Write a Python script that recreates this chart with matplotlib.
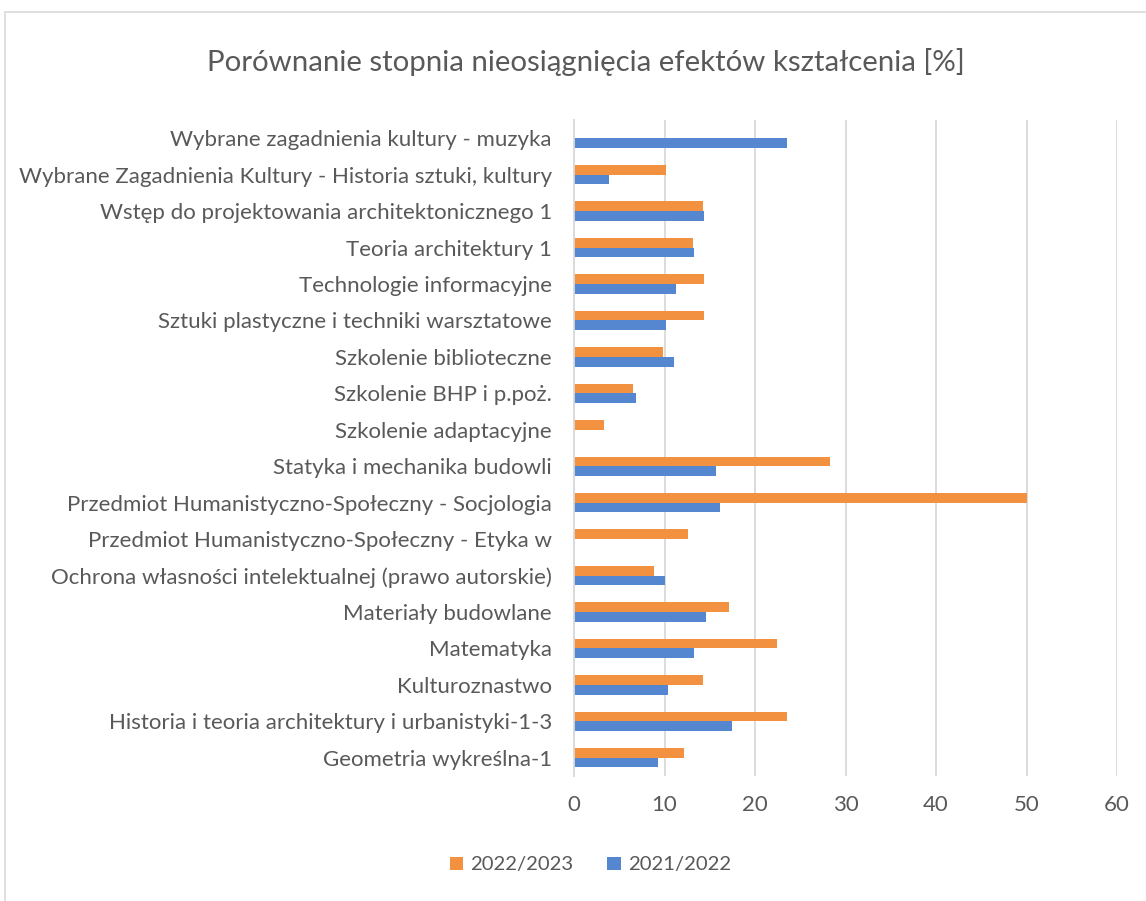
import matplotlib.pyplot as plt
from matplotlib.patches import Rectangle

# dane (od gory do dolu)
kategorie = [
    "Wybrane zagadnienia kultury - muzyka",
    "Wybrane Zagadnienia Kultury - Historia sztuki, kultury",
    "Wstęp do projektowania architektonicznego 1",
    "Teoria architektury 1",
    "Technologie informacyjne",
    "Sztuki plastyczne i techniki warsztatowe",
    "Szkolenie biblioteczne",
    "Szkolenie BHP i p.poż.",
    "Szkolenie adaptacyjne",
    "Statyka i mechanika budowli",
    "Przedmiot Humanistyczno-Społeczny - Socjologia",
    "Przedmiot Humanistyczno-Społeczny - Etyka w",
    "Ochrona własności intelektualnej (prawo autorskie)",
    "Materiały budowlane",
    "Matematyka",
    "Kulturoznastwo",
    "Historia i teoria architektury i urbanistyki-1-3",
    "Geometria wykreślna-1",
]
rok_2022_2023 = [0, 10.2, 14.2, 13.2, 14.4, 14.4, 9.85, 6.5, 3.35, 28.3,
                 50.0, 12.6, 8.8, 17.1, 22.4, 14.2, 23.5, 12.2]
rok_2021_2022 = [23.5, 3.86, 14.4, 13.3, 11.3, 10.2, 11.1, 6.8, 0, 15.7,
                 16.1, 0, 10.0, 14.6, 13.3, 10.4, 17.5, 9.3]

POMARANCZ = "#F29241"
NIEBIESKI = "#5586D0"
SZARY = "#595959"

plt.rcParams["font.family"] = ["Lato", "DejaVu Sans"]

fig = plt.figure(figsize=(11.46, 9.01), dpi=100)
ax = fig.add_axes([0.5009, 0.1387, 0.4738, 0.7281])

n = len(kategorie)
y = [n - 1 - i for i in range(n)]
h = 0.265
ax.barh([v + h / 2 for v in y], rok_2022_2023, height=h, color=POMARANCZ,
        label="2022/2023", zorder=3)
ax.barh([v - h / 2 for v in y], rok_2021_2022, height=h, color=NIEBIESKI,
        label="2021/2022", zorder=3)

ax.set_xlim(0, 60)
ax.set_ylim(-0.5, n - 0.5)
ax.set_xticks(range(0, 61, 10))
ax.set_yticks(y)
ax.set_yticklabels(kategorie)
ax.grid(axis="x", color="#D9D9D9", linewidth=1.3, zorder=0)
for s in ["top", "right", "bottom"]:
    ax.spines[s].set_visible(False)
ax.spines["left"].set_color("#D9D9D9")
ax.spines["left"].set_linewidth(1.3)
ax.spines["left"].set_zorder(4)
ax.tick_params(axis="both", length=0, colors=SZARY, labelsize=16)
ax.tick_params(axis="y", pad=16)
ax.tick_params(axis="x", pad=14)

fig.text(0.511, 0.931, "Porównanie stopnia nieosiągnięcia efektów kształcenia [%]",
         ha="center", va="center", fontsize=21.2, color=SZARY)

ax.legend(loc="center", bbox_to_anchor=(0.515, 0.04), bbox_transform=fig.transFigure,
          ncol=2, frameon=False, fontsize=14.6, labelcolor=SZARY,
          handlelength=0.65, handleheight=0.65, handletextpad=0.35, columnspacing=1.7)

fig.patches.append(Rectangle((0.0045, -0.01), 1.2, 0.997, transform=fig.transFigure,
                             fill=False, edgecolor="#D9D9D9", linewidth=1.2))

fig.savefig("out.png", dpi=100)
